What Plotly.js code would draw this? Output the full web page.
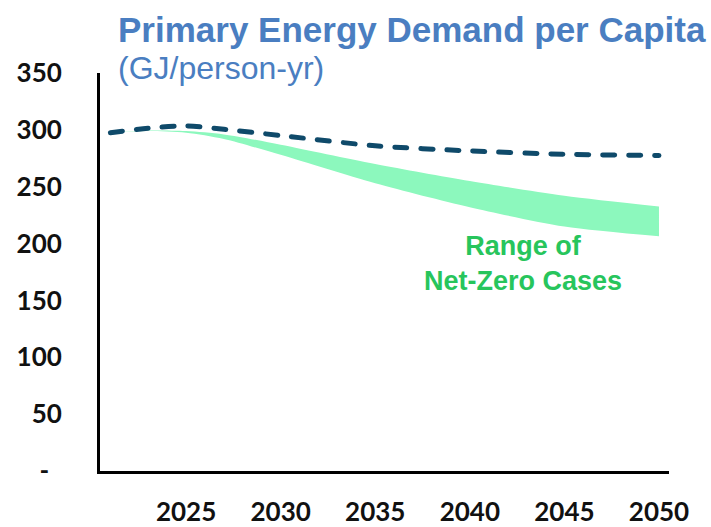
<!DOCTYPE html>
<html>
<head>
<meta charset="utf-8">
<script src="https://cdn.plot.ly/plotly-3.0.1.min.js"></script>
<style>
  html, body { margin: 0; padding: 0; background: #ffffff; }
  #chart { width: 711px; height: 527px; }
  /* rounded dash ends on the reference-case line */
  .scatterlayer .js-line { stroke-linecap: round; }
</style>
</head>
<body>
<div id="chart"></div>
<script>
// Primary energy demand per capita, GJ/person-yr
const years = [2021, 2023, 2025, 2027, 2030, 2035, 2040, 2045, 2050];
const referenceCase = [297.5, 301.5, 303.5, 300.5, 295, 286, 281.5, 278.5, 277.5];
const netZeroHigh = [298, 299.5, 299, 296, 287, 270, 255, 242, 232.5];
const netZeroLow = [298, 299, 297.5, 292, 278, 253, 232, 215, 206.5];

const xTickVals = [2025, 2030, 2035, 2040, 2045, 2050];
const yTickVals = [0, 50, 100, 150, 200, 250, 300, 350];
const yTickText = ['-\u00a0\u00a0', '50', '100', '150', '200', '250', '300', '350'];

const titleText = 'Primary Energy Demand per Capita';
const unitText = '(GJ/person-yr)';
const bandLabel = 'Range of<br>Net-Zero Cases';

const blue = '#4a7ec1';
const tickFont = { family: 'Lato, "Open Sans", sans-serif', size: 26, weight: 700, color: '#111111' };

const traces = [
  {
    x: years, y: netZeroLow, type: 'scatter', mode: 'lines',
    line: { width: 0, shape: 'spline', smoothing: 0.8, color: '#8cf8bd' },
    hoverinfo: 'skip', showlegend: false
  },
  {
    x: years, y: netZeroHigh, type: 'scatter', mode: 'lines',
    fill: 'tonexty', fillcolor: '#8cf8bd',
    line: { width: 0, shape: 'spline', smoothing: 0.8, color: '#8cf8bd' },
    hoverinfo: 'skip', showlegend: false
  },
  {
    x: years, y: referenceCase, type: 'scatter', mode: 'lines',
    line: { width: 5, color: '#0f4a6a', dash: '12px,14px', shape: 'spline', smoothing: 0.8 },
    showlegend: false
  }
];

const layout = {
  width: 711, height: 527,
  margin: { l: 100, r: 42, t: 73, b: 56, pad: 0 },
  paper_bgcolor: '#ffffff', plot_bgcolor: '#ffffff',
  showlegend: false,
  title: {
    text: '<b>' + titleText + '</b>',
    font: { family: '"Liberation Sans", Arial, sans-serif', size: 35, color: blue },
    xref: 'container', yref: 'container',
    x: 118 / 711, xanchor: 'left',
    y: 1 - 30 / 527, yanchor: 'middle'
  },
  xaxis: {
    range: [2020.45, 2050.53],
    tickmode: 'array', tickvals: xTickVals,
    ticks: '', showgrid: false, zeroline: false,
    showline: true, linecolor: '#000000', linewidth: 3,
    tickfont: tickFont, ticklabelstandoff: 16
  },
  yaxis: {
    range: [0, 350],
    tickmode: 'array', tickvals: yTickVals, ticktext: yTickText,
    ticks: '', showgrid: false, zeroline: false,
    showline: true, linecolor: '#000000', linewidth: 3,
    tickfont: tickFont, ticklabelstandoff: 30
  },
  annotations: [
    {
      text: unitText, showarrow: false,
      xref: 'paper', yref: 'paper',
      x: 16 / 569, xanchor: 'left',
      y: (471 - 68) / 398, yanchor: 'middle',
      font: { family: '"Liberation Sans", Arial, sans-serif', size: 32, color: blue }
    },
    {
      text: bandLabel, showarrow: false,
      xref: 'x', yref: 'y',
      x: 2042.8, y: 182.5, xanchor: 'center', yanchor: 'middle',
      align: 'center',
      font: { family: '"Liberation Sans", Arial, sans-serif', size: 27, weight: 700, color: '#27c55c' }
    }
  ]
};

Plotly.newPlot('chart', traces, layout, { displayModeBar: false, staticPlot: true });
</script>
</body>
</html>
